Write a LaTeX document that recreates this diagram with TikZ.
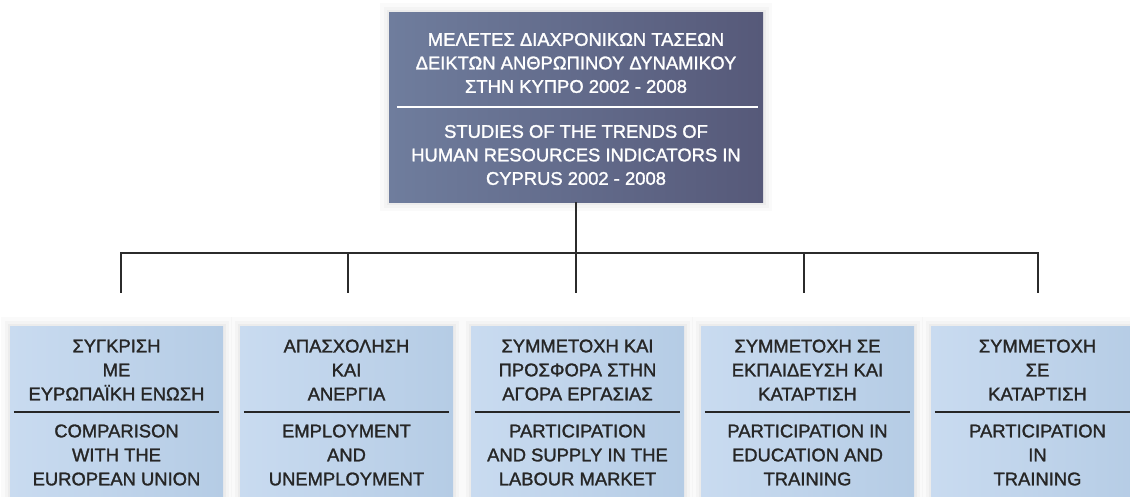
\documentclass[tikz,border=0pt]{standalone}
\usepackage{fontspec}
\setmainfont{Liberation Sans}[FakeBold=1.5]
\usetikzlibrary{positioning,calc}
\definecolor{headleft}{HTML}{6F7D9D}
\definecolor{headright}{HTML}{565979}
\definecolor{topicleft}{HTML}{C9DBF0}
\definecolor{topicright}{HTML}{B5CCE5}
\definecolor{inktext}{HTML}{262626}
\definecolor{treeline}{HTML}{2B2B2B}

\begin{document}
\begin{tikzpicture}[x=1pt,y=-1pt,
  glow/.style={preaction={draw=black, draw opacity=0.02, line width=18pt},
               preaction={draw=black, draw opacity=0.025, line width=11pt},
               preaction={draw=black, draw opacity=0.03, line width=5pt}},
  headbox/.style={rectangle, glow, minimum width=374pt, minimum height=190pt, left color=headleft, right color=headright},
  topicbox/.style={rectangle, glow, anchor=north, minimum width=213pt, minimum height=176pt, left color=topicleft, right color=topicright},
  headtext/.style={text=white, align=center, inner sep=0pt, font=\fontsize{18.4}{23.5}\selectfont},
  topictext/.style={text=inktext, align=center, inner sep=0pt, font=\fontsize{18.4}{24}\selectfont},
  headsep/.style={draw=white, line width=2.5pt},
  topicsep/.style={draw=inktext, line width=2pt},
  branch/.style={draw=treeline, line width=2pt}]

\fill[white] (0,0) rectangle (1130,496);
\clip (0,0) rectangle (1130,496);

% HEADING

\node[headbox] (head) at (576,107) {};
\node[headtext] (head-gr) at (576,63) {ΜΕΛΕΤΕΣ ΔΙΑΧΡΟΝΙΚΩΝ ΤΑΣΕΩΝ\\ΔΕΙΚΤΩΝ ΑΝΘΡΩΠΙΝΟΥ ΔΥΝΑΜΙΚΟΥ\\ΣΤΗΝ ΚΥΠΡΟ 2002 - 2008};
\node[headtext] (head-en) at (576,155) {STUDIES OF THE TRENDS OF\\HUMAN RESOURCES INDICATORS IN\\CYPRUS 2002 - 2008};
\draw[headsep] ([xshift=8pt]head.west) -- ([xshift=-5pt]head.east);

% TOPICS

\node[topicbox] (cmp) at (116.5,326) {};
\node[topictext] (cmp-gr) at (116.5,370) {ΣΥΓΚΡΙΣΗ\\ΜΕ\\ΕΥΡΩΠΑΪΚΗ ΕΝΩΣΗ};
\node[topictext] (cmp-en) at (116.5,455) {COMPARISON\\WITH THE\\EUROPEAN UNION};
\draw[topicsep] ($(cmp.north west)+(4,86)$) -- ($(cmp.north east)+(-4,86)$);

\node[topicbox] (emp) at (346.5,326) {};
\node[topictext] (emp-gr) at (346.5,370) {ΑΠΑΣΧΟΛΗΣΗ\\ΚΑΙ\\ΑΝΕΡΓΙΑ};
\node[topictext] (emp-en) at (346.5,455) {EMPLOYMENT\\AND\\UNEMPLOYMENT};
\draw[topicsep] ($(emp.north west)+(4,86)$) -- ($(emp.north east)+(-4,86)$);

\node[topicbox] (lab) at (577.5,326) {};
\node[topictext] (lab-gr) at (577.5,370) {ΣΥΜΜΕΤΟΧΗ ΚΑΙ\\ΠΡΟΣΦΟΡΑ ΣΤΗΝ\\ΑΓΟΡΑ ΕΡΓΑΣΙΑΣ};
\node[topictext] (lab-en) at (577.5,455) {PARTICIPATION\\AND SUPPLY IN THE\\LABOUR MARKET};
\draw[topicsep] ($(lab.north west)+(4,86)$) -- ($(lab.north east)+(-4,86)$);

\node[topicbox] (edu) at (807.5,326) {};
\node[topictext] (edu-gr) at (807.5,370) {ΣΥΜΜΕΤΟΧΗ ΣΕ\\ΕΚΠΑΙΔΕΥΣΗ ΚΑΙ\\ΚΑΤΑΡΤΙΣΗ};
\node[topictext] (edu-en) at (807.5,455) {PARTICIPATION IN\\EDUCATION AND\\TRAINING};
\draw[topicsep] ($(edu.north west)+(4,86)$) -- ($(edu.north east)+(-4,86)$);

\node[topicbox] (trn) at (1037.5,326) {};
\node[topictext] (trn-gr) at (1037.5,370) {ΣΥΜΜΕΤΟΧΗ\\ΣΕ\\ΚΑΤΑΡΤΙΣΗ};
\node[topictext] (trn-en) at (1037.5,455) {PARTICIPATION\\IN\\TRAINING};
\draw[topicsep] ($(trn.north west)+(4,86)$) -- ($(trn.north east)+(-4,86)$);

% TREE

\coordinate (hub) at (576,253);
\coordinate (tip-cmp) at (121,293);
\coordinate (tip-emp) at (348,293);
\coordinate (tip-lab) at (576,293);
\coordinate (tip-edu) at (804,293);
\coordinate (tip-trn) at (1038,293);

\draw[branch] (head.south) -- (hub);
\draw[branch] (hub) -| (tip-cmp);
\draw[branch] (hub) -| (tip-emp);
\draw[branch] (hub) -- (tip-lab);
\draw[branch] (hub) -| (tip-edu);
\draw[branch] (hub) -| (tip-trn);

\end{tikzpicture}
\end{document}
